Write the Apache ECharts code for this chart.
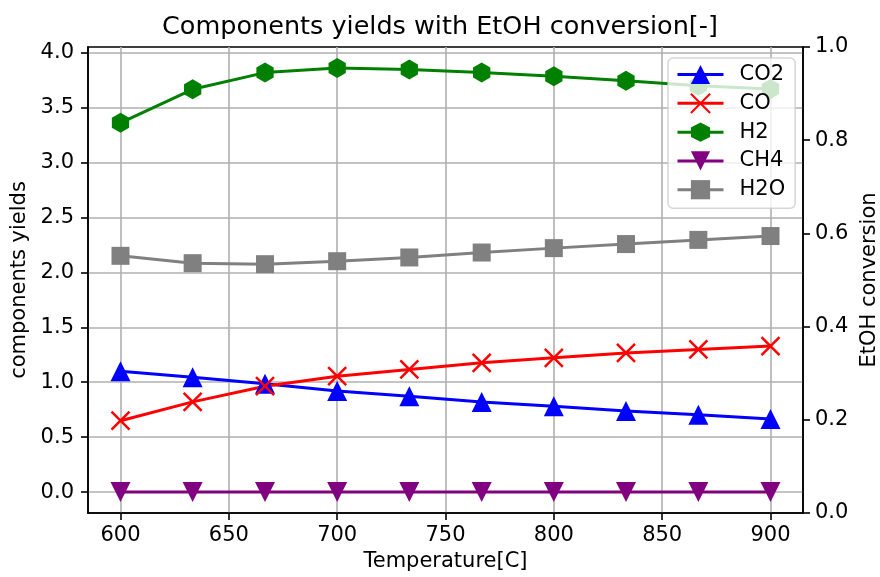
<!DOCTYPE html>
<html>
<head>
<meta charset="utf-8">
<script src="https://cdn.jsdelivr.net/npm/echarts@6/dist/echarts.min.js"></script>
<style>html,body{margin:0;padding:0;background:#fff;}#c{width:880px;height:577px;}</style>
</head>
<body>
<div id="c"></div>
<script>
var temperatures = [600, 633.3, 666.7, 700, 733.3, 766.7, 800, 833.3, 866.7, 900];
var co2 = [1.10, 1.045, 0.985, 0.92, 0.872, 0.821, 0.781, 0.737, 0.703, 0.666];
var co  = [0.65, 0.821, 0.964, 1.055, 1.116, 1.177, 1.222, 1.266, 1.298, 1.329];
var h2  = [3.36, 3.665, 3.817, 3.859, 3.845, 3.817, 3.783, 3.744, 3.698, 3.668];
var ch4 = [0, 0, 0, 0, 0, 0, 0, 0, 0, 0];
var h2o = [2.15, 2.083, 2.074, 2.101, 2.135, 2.18, 2.22, 2.257, 2.295, 2.33];
var xTicks = [600, 650, 700, 750, 800, 850, 900];
var yTicks = [0, 0.5, 1.0, 1.5, 2.0, 2.5, 3.0, 3.5, 4.0];
var seriesNames = ['CO2', 'CO', 'H2', 'CH4', 'H2O'];

var FONT = 'DejaVu Sans';
var FS = 21;
function pairs(ys) { return temperatures.map(function (t, i) { return [t, ys[i]]; }); }

var hexPath = 'path://M10 0 L18.66 5 L18.66 15 L10 20 L1.34 15 L1.34 5 Z';
var xPath = 'path://M0 0 L20 20 M20 0 L0 20';

function mkSeries(name, ys, color, symbol, size, extra) {
  var s = {
    name: name, type: 'line', data: pairs(ys), yAxisIndex: 0,
    symbol: symbol, symbolSize: size, showAllSymbol: true,
    color: color,
    lineStyle: { color: color, width: 3 },
    itemStyle: { color: color },
    emphasis: { disabled: true }
  };
  if (extra) for (var k in extra) s[k] = extra[k];
  return s;
}

var chart = echarts.init(document.getElementById('c'), null, { renderer: 'canvas' });
chart.setOption({
  animation: false,
  backgroundColor: '#fff',
  textStyle: { fontFamily: FONT, color: '#000' },
  title: {
    text: 'Components yields with EtOH conversion[-]',
    left: 'center', top: 9,
    textStyle: { fontFamily: FONT, fontSize: 25.5, fontWeight: 'normal', color: '#000' }
  },
  grid: {
    left: 88, right: 77, top: 47, bottom: 64,
    outerBoundsMode: 'none', containLabel: false,
    show: true, borderColor: '#000', borderWidth: 1.6, backgroundColor: 'transparent'
  },
  legend: {
    orient: 'vertical', left: 668, top: 58,
    data: seriesNames,
    itemWidth: 46, itemHeight: 24, itemGap: 7.75,
    padding: [6, 10, 8, 8],
    backgroundColor: 'rgba(255,255,255,0.8)',
    borderColor: 'rgba(204,204,204,0.8)', borderWidth: 1.5, borderRadius: 5,
    lineStyle: { width: 3 },
    textStyle: { fontFamily: FONT, fontSize: FS, color: '#000', padding: [0, 0, 0, 11] },
    selectedMode: false
  },
  xAxis: {
    type: 'value', min: 585, max: 915,
    name: 'Temperature[C]', nameLocation: 'middle', nameGap: 38,
    nameTextStyle: { fontFamily: FONT, fontSize: FS, color: '#000' },
    axisLine: { show: true, onZero: false, lineStyle: { color: '#000', width: 1.6 } },
    axisTick: { show: true, length: 7, lineStyle: { color: '#000', width: 1.6 }, customValues: xTicks },
    axisLabel: { fontFamily: FONT, fontSize: FS, color: '#000', margin: 12, customValues: xTicks,
      formatter: function (v) { return String(Math.round(v)); } },
    splitLine: { show: true, lineStyle: { color: '#b0b0b0', width: 1.6 } }
  },
  yAxis: [{
    type: 'value', min: -0.19, max: 4.05, position: 'left',
    name: 'components yields', nameLocation: 'middle', nameGap: 53,
    nameTextStyle: { fontFamily: FONT, fontSize: FS, color: '#000' },
    axisLine: { show: true, onZero: false, lineStyle: { color: '#000', width: 1.6 } },
    axisTick: { show: true, length: 7, lineStyle: { color: '#000', width: 1.6 }, customValues: yTicks },
    axisLabel: { fontFamily: FONT, fontSize: FS, color: '#000', margin: 14, customValues: yTicks,
      formatter: function (v) { return v.toFixed(1); } },
    splitLine: { show: true, lineStyle: { color: '#b0b0b0', width: 1.6 } }
  }, {
    type: 'value', min: 0, max: 1, interval: 0.2, position: 'right',
    name: 'EtOH conversion', nameLocation: 'middle', nameGap: 52,
    nameTextStyle: { fontFamily: FONT, fontSize: FS, color: '#000' },
    axisLine: { show: true, onZero: false, lineStyle: { color: '#000', width: 1.6 } },
    axisTick: { show: true, length: 7, lineStyle: { color: '#000', width: 1.6 } },
    axisLabel: { fontFamily: FONT, fontSize: FS, color: '#000', margin: 12,
      formatter: function (v) { return v.toFixed(1); } },
    splitLine: { show: false }
  }],
  series: [
    mkSeries('CO2', co2, '#0000ff', 'triangle', 20),
    mkSeries('CO', co, '#ff0000', xPath, 18, { itemStyle: { color: '#ff0000', borderColor: '#ff0000', borderWidth: 2.5 } }),
    mkSeries('H2', h2, '#008000', hexPath, [17.3, 20]),
    mkSeries('CH4', ch4, '#800080', 'triangle', 20, { symbolRotate: 180 }),
    mkSeries('H2O', h2o, '#808080', 'rect', 18)
  ]
});
</script>
</body>
</html>
